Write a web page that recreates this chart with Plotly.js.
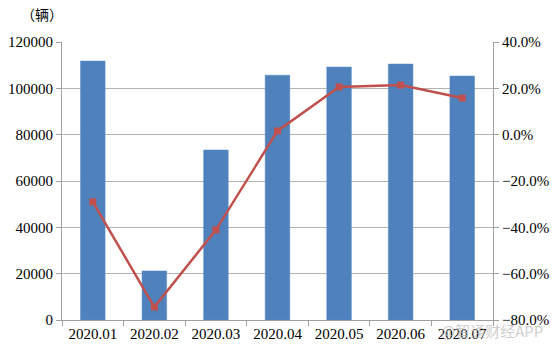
<!DOCTYPE html>
<html>
<head>
<meta charset="utf-8">
<script src="https://cdn.plot.ly/plotly-3.0.1.min.js"></script>
<style>html,body{margin:0;padding:0;background:#fff;}#chart{width:554px;height:349px;}</style>
</head>
<body>
<div id="chart"></div>
<script>
const categories = ["2020.01","2020.02","2020.03","2020.04","2020.05","2020.06","2020.07"];
const sales = [111800, 21200, 73400, 105700, 109200, 110500, 105300];
const growth = [-0.290, -0.744, -0.411, 0.016, 0.206, 0.214, 0.158];
const leftTicks = [0, 20000, 40000, 60000, 80000, 100000, 120000];
const rightTicks = [-0.8, -0.6, -0.4, -0.2, 0, 0.2, 0.4];

const serif = "Liberation Serif";
const data = [
  {type: "bar", x: categories, y: sales, width: 0.4,
   marker: {color: "#4F81BD", line: {color: "#5B8CC8", width: 0.5}}, yaxis: "y", hoverinfo: "none"},
  {type: "scatter", mode: "lines+markers", x: categories, y: growth, yaxis: "y2",
   line: {color: "#C0504D", width: 2.5},
   marker: {symbol: "square", size: 7, color: "#C0504D"}, hoverinfo: "none"}
];
const layout = {
  width: 554, height: 349,
  margin: {l: 62, r: 61, t: 42, b: 29},
  paper_bgcolor: "#fff", plot_bgcolor: "#fff",
  showlegend: false,
  font: {family: serif, size: 15, color: "#000"},
  xaxis: {type: "category", showline: true, linecolor: "#A0A0A0", linewidth: 1,
          ticks: "outside", tickson: "boundaries", ticklen: 5, tickcolor: "#A0A0A0",
          showgrid: false, tickfont: {family: serif, size: 15}},
  yaxis: {range: [0, 120000], tickvals: leftTicks, ticktext: leftTicks.map(String),
          showline: true, linecolor: "#A0A0A0", ticks: "outside", ticklen: 5, tickcolor: "#A0A0A0",
          gridcolor: "#B4B4B4", gridwidth: 1, zeroline: false, tickfont: {family: serif, size: 15}},
  yaxis2: {range: [-0.8, 0.4], tickvals: rightTicks, tickformat: ".1%", overlaying: "y", side: "right",
           showline: true, linecolor: "#A0A0A0", ticks: "outside", ticklen: 5, tickcolor: "#A0A0A0",
           showgrid: false, zeroline: false, tickfont: {family: serif, size: 15}},
  annotations: [
    {text: "（辆）", xref: "paper", yref: "paper", x: -0.1, y: 1.0, yshift: 28,
     xanchor: "left", yanchor: "middle", showarrow: false,
     font: {family: "Noto Sans CJK SC", size: 14, color: "#000"}},
    {text: "@智通财经APP", xref: "paper", yref: "paper", x: 1.12, y: 0, yshift: -10,
     xanchor: "right", yanchor: "middle", showarrow: false,
     font: {family: "Noto Sans CJK SC", size: 15, color: "rgba(185,185,185,0.7)"}}
  ]
};
Plotly.newPlot("chart", data, layout, {staticPlot: true});
</script>
</body>
</html>
